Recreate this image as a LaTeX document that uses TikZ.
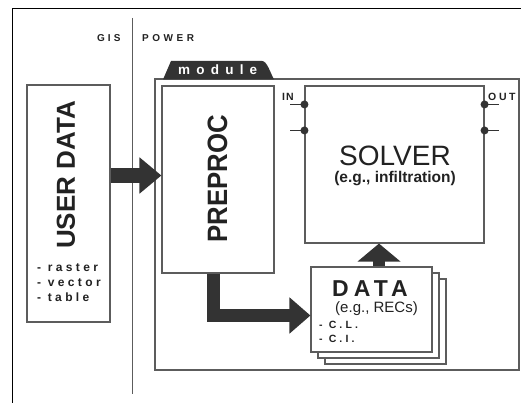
\documentclass[tikz,border=0pt]{standalone}
\usepackage{fontspec}
\setmainfont{Liberation Sans}
\usetikzlibrary{arrows.meta,shadows}
\definecolor{DarkGray}{HTML}{333333}
\definecolor{FrameGray}{HTML}{5C5C5C}
\definecolor{InkBlack}{HTML}{222222}
\newcommand{\spaced}[1]{\addfontfeature{LetterSpace=#1}}
\tikzset{
  box/.style={draw=FrameGray, line width=1.1pt, fill=white, inner sep=0pt},
  txt/.style={text=InkBlack, inner sep=0pt},
  blockarrow/.style={draw=DarkGray, line width=14pt, line join=miter, -{Triangle[length=22pt, width=35pt]}},
  port/.style={draw=DarkGray, line width=1pt}
}

\begin{document}
\begin{tikzpicture}[x=1pt, y=-1pt]
\useasboundingbox (0,0) rectangle (521,403);
\fill[white] (0,0) rectangle (521,403);
% frame and divider
\draw[line width=1pt, black] (12,403) -- (12,9) -- (521,9);
\draw[FrameGray, line width=1pt] (132,18) -- (132,394);
\node[txt, anchor=base west, font=\bfseries\fontsize{10}{12}\selectfont\spaced{30}] (gis) at (97,42) {GIS};
\node[txt, anchor=base west, font=\bfseries\fontsize{10}{12}\selectfont\spaced{35}] (power) at (142,42) {POWER};
% module
\node[box, minimum width=364pt, minimum height=291pt] (module) at (337,224.5) {};
\fill[DarkGray] (163,79.5) -- (171,61) -- (262,61) .. controls (267,61) and (270,72) .. (274,79.5) -- cycle;
\node[txt, text=white, anchor=base west, font=\bfseries\fontsize{13.5}{14}\selectfont\spaced{46}] (modname) at (178,75) {module};
% boxes
\node[box, minimum width=83pt, minimum height=237pt] (user) at (68.5,203.5) {};
\node[box, minimum width=112pt, minimum height=187pt] (preproc) at (218,179.5) {};
\node[box, minimum width=179pt, minimum height=157pt] (solver) at (394.5,164.5) {};
\node[box, minimum width=121pt, minimum height=85pt,
      double copy shadow={shadow xshift=7pt, shadow yshift=-6pt, draw=FrameGray, line width=1.1pt}] (data) at (371.5,309.5) {};
% texts
\node[txt, rotate=90, font=\bfseries\fontsize{26}{26}\selectfont] (usertxt) at (66,175) {USER DATA};
\node[txt, anchor=north west, align=left, font=\bfseries\fontsize{12}{15}\selectfont\spaced{28}] (userlist) at (37,263) {- raster\\- vector\\- table};
\node[txt, rotate=90, font=\bfseries\fontsize{28}{28}\selectfont] (pretxt) at (217.5,178.5) {\scalebox{0.92}[1]{PREPROC}};
\node[txt, anchor=base, text depth=0pt, font=\fontsize{28}{28}\selectfont] (solvtxt) at (395,166) {SOLVER};
\node[txt, font=\bfseries\fontsize{15.5}{16}\selectfont] (solvsub) at (395,178.5) {(e.g., infiltration)};
\node[txt, font=\bfseries\fontsize{23}{23}\selectfont\spaced{22}] (datatxt) at (370,289) {DATA};
\node[txt, font=\fontsize{15}{15}\selectfont] (datasub) at (376.5,309) {(e.g., RECs)};
\node[txt, anchor=north west, align=left, font=\bfseries\fontsize{10.5}{14}\selectfont\spaced{30}] (datalist) at (319,320.5) {- C.L.\\- C.I.};
% ports
\node[txt, anchor=base west, font=\bfseries\fontsize{10.5}{12}\selectfont\spaced{10}] (inlab) at (282,101) {IN};
\node[txt, anchor=base west, font=\bfseries\fontsize{10.5}{12}\selectfont\spaced{25}] (outlab) at (488,101) {OUT};
\foreach \dy in {19,45} {
  \draw[port] ([yshift=-\dy pt]solver.north west) -- ++(-14,0);
  \fill[DarkGray] ([yshift=-\dy pt]solver.north west) circle (4pt);
  \draw[port] ([yshift=-\dy pt]solver.north east) -- ++(14,0);
  \fill[DarkGray] ([yshift=-\dy pt]solver.north east) circle (4pt);
}
% arrows
\draw[blockarrow, line width=15pt] ([yshift=28pt]user.east) -- ([yshift=4pt]preproc.west);
\draw[blockarrow, line width=13pt, -{Triangle[length=21pt, width=35pt]}] ([xshift=-4.5pt]preproc.south) |- ([yshift=-6pt]data.west);
\draw[blockarrow, line width=12pt, -{Triangle[length=18pt, width=42pt]}] ([xshift=7.5pt]data.north) -- ([xshift=7.5pt]data.north |- solver.south);
\end{tikzpicture}
\end{document}
